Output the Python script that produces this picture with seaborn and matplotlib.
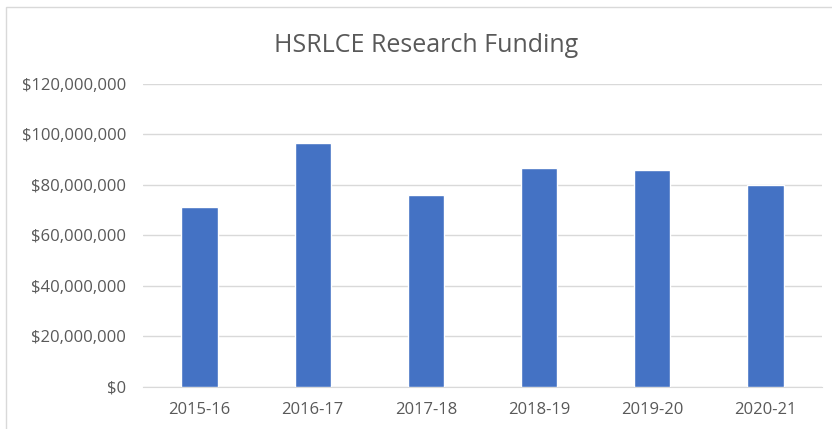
import matplotlib

matplotlib.use("Agg")
import matplotlib.pyplot as plt
import pandas as pd
import seaborn as sns
from matplotlib.patches import Rectangle
from matplotlib.ticker import FuncFormatter, MultipleLocator

YEARS = ["2015-16", "2016-17", "2017-18", "2018-19", "2019-20", "2020-21"]
FUNDING = [71_300_000, 96_400_000, 76_100_000, 86_800_000, 85_700_000, 79_800_000]

TEXT = "#595959"
GRID = "#D9D9D9"
BAR = "#4472C4"

sns.set_style("white")
plt.rcParams["font.family"] = ["Open Sans", "DejaVu Sans"]

df = pd.DataFrame({"year": YEARS, "funding": FUNDING})

fig = plt.figure(figsize=(8.32, 4.29), dpi=100)
ax = fig.add_axes([143 / 832, 1 - 386.5 / 429, (822 - 143) / 832, (386.5 - 84) / 429])

sns.barplot(data=df, x="year", y="funding", color=BAR, width=0.32, saturation=1, ax=ax, zorder=3)

ax.set_ylim(0, 120_000_000)
ax.yaxis.set_major_locator(MultipleLocator(20_000_000))
ax.yaxis.set_major_formatter(FuncFormatter(lambda v, _: f"${v:,.0f}"))
ax.grid(axis="y", color=GRID, linewidth=1, zorder=0)
ax.set_xlabel("")
ax.set_ylabel("")
for side in ("top", "right", "left"):
    ax.spines[side].set_visible(False)
ax.spines["bottom"].set_color(GRID)
ax.tick_params(axis="both", length=0, colors=TEXT, labelsize=12)
ax.tick_params(axis="x", pad=11)
ax.tick_params(axis="y", pad=12)

fig.text(426 / 832, 1 - 52 / 429, "HSRLCE Research Funding", ha="center", va="baseline",
         fontsize=18, color=TEXT)

# chart frame, only the top and left edges fall inside the image
fig.patches.append(Rectangle((6 / 832, -0.1), 1.2, 1.1 - 7 / 429, transform=fig.transFigure,
                             fill=False, edgecolor=GRID, linewidth=1))

fig.savefig("out.png", dpi=100)
